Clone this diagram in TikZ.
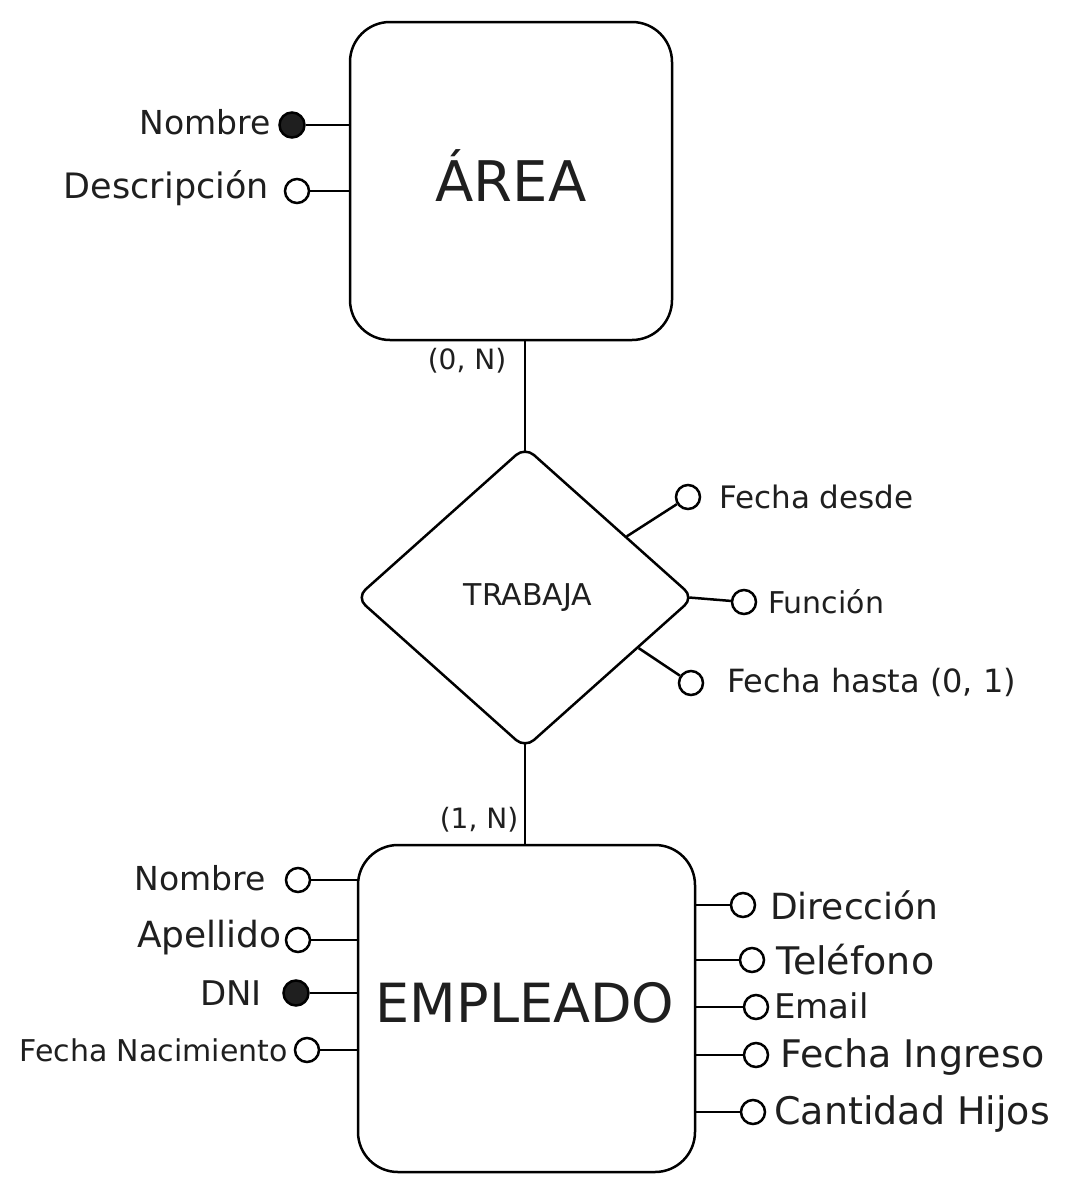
\documentclass[tikz,border=0pt]{standalone}
\usepackage{fontspec}
\setmainfont{DejaVu Sans}
\usetikzlibrary{shapes.geometric}
\newcommand{\fs}[1]{\fontsize{#1}{#1}\selectfont}
\tikzset{
  entity/.style={draw, line width=2.5pt, rounded corners=40pt, inner sep=0pt},
  relbox/.style={draw, diamond, line width=2.5pt, rounded corners=12pt, inner sep=0pt},
  attrkey/.style={circle, draw, fill=black!88, line width=2.5pt, minimum size=25pt, inner sep=0pt},
  attr/.style={circle, draw, fill=white, line width=2.5pt, minimum size=24pt, inner sep=0pt},
  conn/.style={line width=2.5pt},
  lbl/.style={inner sep=0pt, text=black!88},
}
\begin{document}
\begin{tikzpicture}[x=1pt, y=-1pt]
\useasboundingbox[fill=white] (0,0) rectangle (1078,1192);

% entities and relationship
\node[entity, minimum width=322pt, minimum height=318pt] (area) at (511,181) {};
\node[lbl] (areaT) at (511,176) {\fs{56}ÁREA};
\node[relbox, minimum width=338pt, minimum height=302pt] (rel) at (525,597.5) {};
\node[lbl] (relT) at (528,598) {\fs{30}TRABAJA};
\node[entity, minimum width=337pt, minimum height=327pt] (emp) at (526.5,1008.5) {};
\node[lbl] (empT) at (525,1003) {\fs{54}EMPLEADO};

% relationship lines
\draw[conn] (rel.north |- area.south) -- ([yshift=-6pt]rel.north);
\draw[conn] ([yshift=6pt]rel.south) -- (emp.north -| rel.south);
\node[lbl] (cardA) at (467,361) {\fs{28}(0, N)};
\node[lbl] (cardE) at (479,820) {\fs{28}(1, N)};

% AREA attributes
\node[attrkey] (anom) at (292,125) {};
\node[lbl, anchor=east] (anomT) at (271,122) {\fs{33}Nombre};
\draw[conn] (anom) -- (anom -| area.west);
\node[attr] (adesc) at (297,191) {};
\node[lbl, anchor=east] (adescT) at (269,188) {\fs{35}Descripción};
\draw[conn] (adesc) -- (adesc -| area.west);

% TRABAJA attributes
\node[attr] (fd) at (688,497) {};
\node[lbl, anchor=west] (fdT) at (719,497) {\fs{31}Fecha desde};
\draw[conn] (rel.31) -- (fd);
\node[attr] (fu) at (744,602) {};
\node[lbl, anchor=west] (fuT) at (768,602) {\fs{30}Función};
\draw[conn] ([xshift=-6pt]rel.east) -- (fu);
\node[attr] (fh) at (691,683) {};
\node[lbl, anchor=west] (fhT) at (727,682) {\fs{32}Fecha hasta (0, 1)};
\draw[conn] (rel.-24) -- (fh);

% EMPLEADO left attributes
\node[attr] (enom) at (298,880) {};
\node[lbl, anchor=east] (enomT) at (266,878) {\fs{33}Nombre};
\draw[conn] (enom) -- (enom -| emp.west);
\node[attr] (eape) at (298,940) {};
\node[lbl, anchor=east] (eapeT) at (282,938) {\fs{36}Apellido};
\draw[conn] (eape) -- (eape -| emp.west);
\node[attrkey] (edni) at (296,993) {};
\node[lbl, anchor=east] (edniT) at (262,993) {\fs{34}DNI};
\draw[conn] (edni) -- (edni -| emp.west);
\node[attr] (efn) at (307,1050) {};
\node[lbl, anchor=east] (efnT) at (288,1050) {\fs{30}Fecha Nacimiento};
\draw[conn] (efn) -- (efn -| emp.west);

% EMPLEADO right attributes
\node[attr] (edir) at (743,905) {};
\node[lbl, anchor=west] (edirT) at (770,905) {\fs{36}Dirección};
\draw[conn] (edir) -- (edir -| emp.east);
\node[attr] (etel) at (752,960) {};
\node[lbl, anchor=west] (etelT) at (776,960) {\fs{38}Teléfono};
\draw[conn] (etel) -- (etel -| emp.east);
\node[attr] (eem) at (756,1007) {};
\node[lbl, anchor=west] (eemT) at (774,1006) {\fs{34}Email};
\draw[conn] (eem) -- (eem -| emp.east);
\node[attr] (efi) at (756,1055) {};
\node[lbl, anchor=west] (efiT) at (780,1057) {\fs{38}Fecha Ingreso};
\draw[conn] (efi) -- (efi -| emp.east);
\node[attr] (ech) at (753,1112) {};
\node[lbl, anchor=west] (echT) at (774,1114) {\fs{38}Cantidad Hijos};
\draw[conn] (ech) -- (ech -| emp.east);
\end{tikzpicture}
\end{document}
